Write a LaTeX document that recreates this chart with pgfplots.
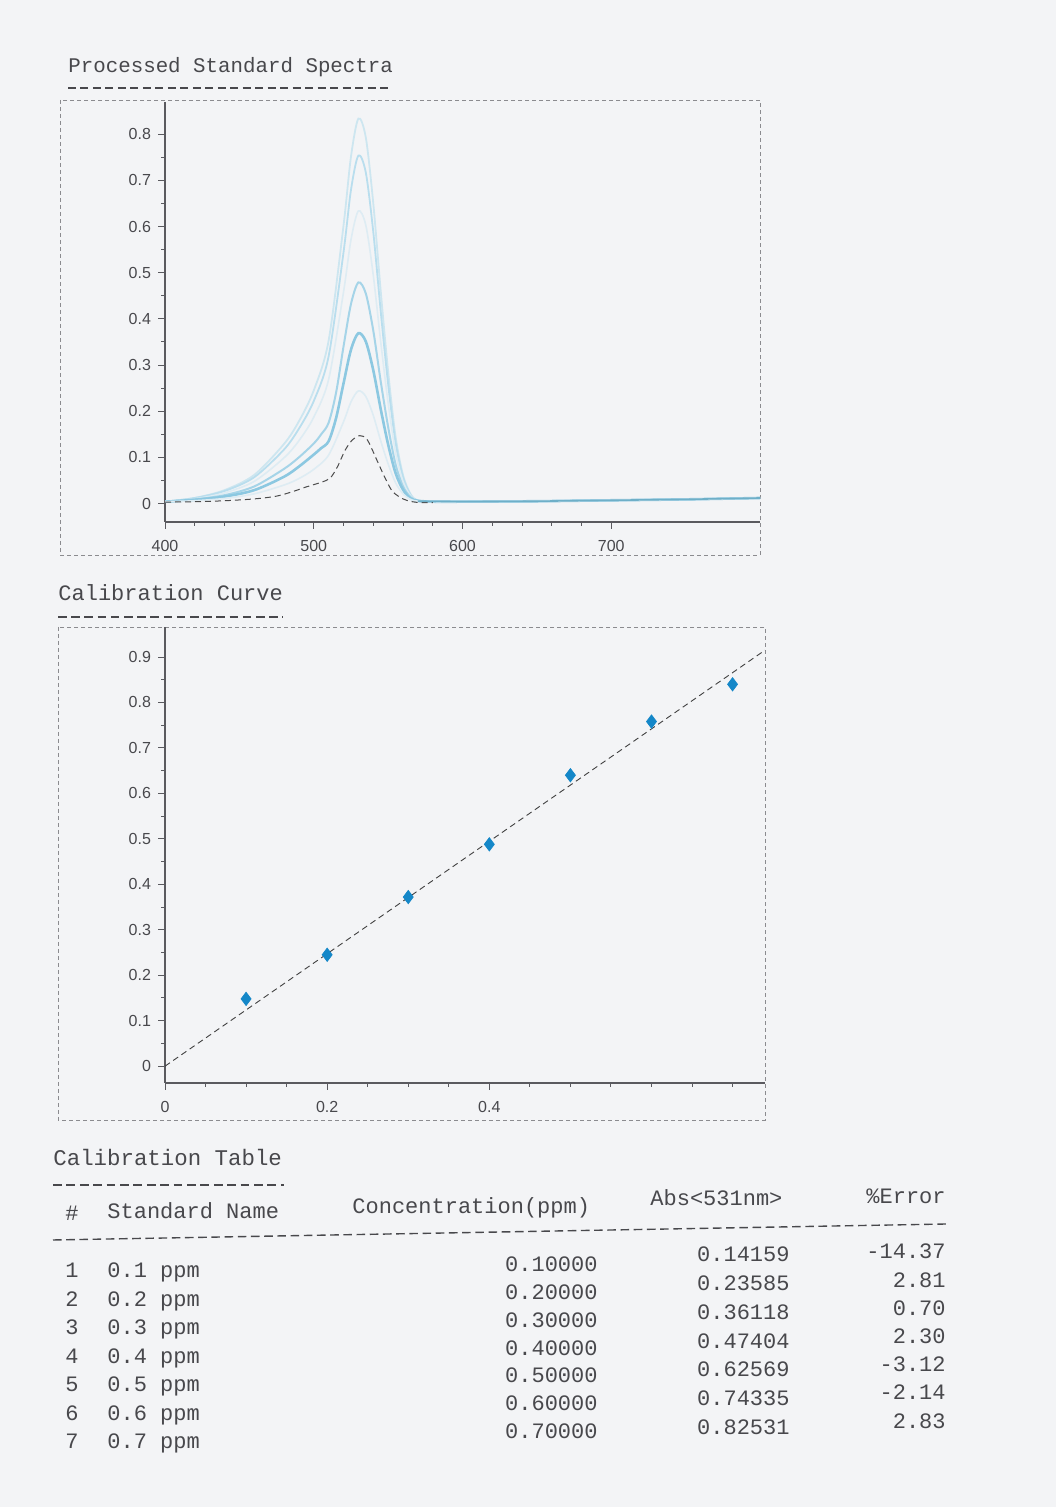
\documentclass[border=0pt]{standalone}
\usepackage{pgfplots}
\pgfplotsset{compat=1.18}
\usepackage{fontspec}
\setmainfont{Liberation Sans}
\newfontfamily\mono{Liberation Mono}
\definecolor{bg}{RGB}{243,244,246}
\definecolor{txt}{RGB}{72,72,76}
\definecolor{axc}{RGB}{90,90,95}
\definecolor{specA}{RGB}{185,222,238}
\definecolor{specB}{RGB}{140,200,225}
\definecolor{specC}{RGB}{165,212,232}
\definecolor{specF}{RGB}{205,230,240}
\definecolor{specG}{RGB}{222,236,243}
\definecolor{specT}{RGB}{110,175,200}
\definecolor{ptblue}{RGB}{20,135,200}
\pgfplotsset{
  common/.style={
    scale only axis,
    axis x line*=bottom, axis y line*=left,
    axis line style={axc, line width=0.6pt},
    tick style={axc, line width=0.5pt},
    tick align=outside,
    major tick length=3.5pt, minor tick length=2pt,
    tick label style={font=\fontsize{8}{9}\selectfont, text=txt},
    /pgf/number format/assume math mode=true,
    xticklabel style={yshift=-2pt},
    clip=true,
  }
}
\begin{document}
\begin{tikzpicture}
\fill[bg] (0,0) rectangle (528pt,753.5pt);
% frames
\draw[axc!70, line width=0.4pt, dash pattern=on 2pt off 1.5pt] (30pt,703.5pt) rectangle (380pt,476pt);
\draw[axc!70, line width=0.4pt, dash pattern=on 2pt off 1.5pt] (29pt,440pt) rectangle (382.5pt,193.5pt);
% titles
\node[anchor=west, inner sep=0, text=txt, font=\mono\fontsize{10.4}{12}\selectfont] at (34pt,720pt) {Processed Standard Spectra};
\draw[txt, line width=0.7pt, dash pattern=on 4pt off 2.24pt] (34pt,709.5pt) -- (196pt,709.5pt);
\node[anchor=west, inner sep=0, text=txt, font=\mono\fontsize{11}{12}\selectfont] at (29pt,457pt) {Calibration Curve};
\draw[txt, line width=0.7pt, dash pattern=on 4.3pt off 2.3pt] (29pt,445pt) -- (141.5pt,445pt);
\node[anchor=west, inner sep=0, text=txt, font=\mono\fontsize{11.2}{12}\selectfont] at (26.5pt,174.5pt) {Calibration Table};
\draw[txt, line width=0.7pt, dash pattern=on 4.4pt off 2.3pt] (26.5pt,161pt) -- (142pt,161pt);

% spectra
\begin{axis}[common, at={(82.5pt,492.5pt)}, anchor=south west,
  width=297.5pt, height=210pt,
  xmin=400, xmax=800, ymin=-0.04, ymax=0.87,
  xtick={400,500,600,700}, minor x tick num=4,
  ytick={0,0.1,...,0.8}, minor y tick num=1,
  yticklabel style={/pgf/number format/.cd, fixed, precision=1},
]
\addplot[specF, line width=0.9pt, smooth] coordinates {(400,0.004)(420,0.012)(440,0.029)(460,0.062)(480,0.129)(490,0.178)(500,0.245)(510,0.353)(520,0.602)(525,0.751)(530,0.834)(535,0.793)(540,0.651)(545,0.461)(550,0.286)(555,0.145)(560,0.062)(565,0.021)(570,0.006)(580,0.004)(600,0.004)(650,0.005)(700,0.007)(750,0.009)(800,0.012)};
\addplot[specA, line width=0.9pt, smooth] coordinates {(400,0.004)(420,0.012)(440,0.027)(460,0.057)(480,0.117)(490,0.162)(500,0.222)(510,0.319)(520,0.544)(525,0.679)(530,0.754)(535,0.717)(540,0.589)(545,0.417)(550,0.259)(555,0.132)(560,0.057)(565,0.019)(570,0.006)(580,0.004)(600,0.004)(650,0.005)(700,0.007)(750,0.009)(800,0.012)};
\addplot[specG, line width=0.8pt, smooth] coordinates {(400,0.004)(420,0.010)(440,0.023)(460,0.048)(480,0.099)(490,0.136)(500,0.187)(510,0.269)(520,0.458)(525,0.571)(530,0.634)(535,0.603)(540,0.495)(545,0.351)(550,0.218)(555,0.111)(560,0.048)(565,0.017)(570,0.006)(580,0.004)(600,0.004)(650,0.005)(700,0.007)(750,0.009)(800,0.012)};
\addplot[specC, line width=1pt, smooth] coordinates {(400,0.004)(420,0.009)(440,0.018)(460,0.037)(480,0.075)(490,0.100)(500,0.130)(505,0.150)(510,0.175)(515,0.240)(520,0.340)(525,0.432)(530,0.479)(535,0.455)(540,0.375)(545,0.265)(550,0.166)(555,0.085)(560,0.037)(565,0.014)(570,0.006)(580,0.004)(600,0.004)(650,0.005)(700,0.007)(750,0.009)(800,0.012)};
\addplot[specB, line width=1.3pt, smooth] coordinates {(400,0.004)(420,0.008)(440,0.015)(460,0.029)(480,0.058)(490,0.080)(500,0.106)(505,0.120)(510,0.135)(515,0.185)(520,0.260)(525,0.333)(530,0.369)(535,0.351)(540,0.289)(545,0.205)(550,0.128)(555,0.066)(560,0.030)(565,0.011)(570,0.006)(580,0.004)(600,0.004)(650,0.005)(700,0.007)(750,0.009)(800,0.012)};
\addplot[specG, line width=0.8pt, smooth] coordinates {(400,0.004)(420,0.006)(440,0.011)(460,0.021)(480,0.040)(490,0.054)(500,0.074)(510,0.105)(520,0.177)(525,0.220)(530,0.244)(535,0.232)(540,0.191)(545,0.136)(550,0.086)(555,0.045)(560,0.021)(565,0.009)(570,0.005)(580,0.004)(600,0.004)(650,0.005)(700,0.007)(750,0.009)(800,0.012)};
\addplot[black!70, line width=0.5pt, densely dashed, smooth] coordinates {(400,0.003)(420,0.004)(440,0.006)(460,0.010)(475,0.016)(486,0.026)(495,0.036)(505,0.046)(511,0.055)(516,0.080)(521,0.115)(526,0.138)(531,0.147)(536,0.138)(543,0.090)(548,0.055)(553,0.026)(560,0.010)(566,0.004)(572,0.002)(580,0.002)};
\addplot[specT, line width=0.8pt] coordinates {(570,0.005)(600,0.004)(650,0.005)(700,0.007)(750,0.009)(800,0.012)};
\end{axis}

% calibration curve
\begin{axis}[common, at={(82.5pt,212pt)}, anchor=south west,
  width=300pt, height=228pt,
  xmin=0, xmax=0.74, ymin=-0.037, ymax=0.966,
  xtick={0,0.2,0.4}, minor xtick={0.05,0.1,0.15,0.25,0.3,0.35,0.45,0.5,0.55,0.6,0.65,0.7},
  ytick={0,0.1,...,0.9}, minor y tick num=1,
  xticklabel style={/pgf/number format/.cd, fixed, precision=1},
  yticklabel style={/pgf/number format/.cd, fixed, precision=1},
]
\addplot[black!75, line width=0.45pt, densely dashed] coordinates {(0,0.0)(0.74,0.915)};
\addplot[only marks, mark=diamond*, mark size=3.3pt, color=ptblue] coordinates {(0.1,0.148)(0.2,0.245)(0.3,0.372)(0.4,0.488)(0.5,0.640)(0.6,0.758)(0.7,0.840)};
\end{axis}

% calibration table
\begin{scope}[every node/.style={inner sep=0, text=txt, font=\mono\fontsize{11}{12}\selectfont}]
\node[anchor=base] at (36pt,143pt) {\#};
\node[anchor=base west] at (53.5pt,144pt) {Standard Name};
\node[anchor=base west] at (176pt,146.5pt) {Concentration(ppm)};
\node[anchor=base west] at (325pt,150.5pt) {Abs<531nm>};
\node[anchor=base east] at (473pt,151.5pt) {\%Error};
\draw[txt, line width=0.7pt, dash pattern=on 4.3pt off 2.3pt] (26.5pt,133.5pt) -- (473pt,141.5pt);
\foreach \i/\n in {1/0.1,2/0.2,3/0.3,4/0.4,5/0.5,6/0.6,7/0.7}{
  \node[anchor=base] at (36pt,{114.5pt-14.25pt*(\i-1)}) {\i};
  \node[anchor=base west] at (53.5pt,{114.5pt-14.25pt*(\i-1)}) {\n\ ppm};
}
\foreach \i/\c in {1/0.10000,2/0.20000,3/0.30000,4/0.40000,5/0.50000,6/0.60000,7/0.70000}{
  \node[anchor=base east] at (299pt,{117.5pt-13.85pt*(\i-1)}) {\c};
}
\foreach \i/\a in {1/0.14159,2/0.23585,3/0.36118,4/0.47404,5/0.62569,6/0.74335,7/0.82531}{
  \node[anchor=base east] at (395pt,{122.5pt-14.35pt*(\i-1)}) {\a};
}
\foreach \i/\e in {1/-14.37,2/2.81,3/0.70,4/2.30,5/-3.12,6/-2.14,7/2.83}{
  \node[anchor=base east] at (473pt,{124pt-14.1pt*(\i-1)}) {\e};
}
\end{scope}
\end{tikzpicture}
\end{document}
